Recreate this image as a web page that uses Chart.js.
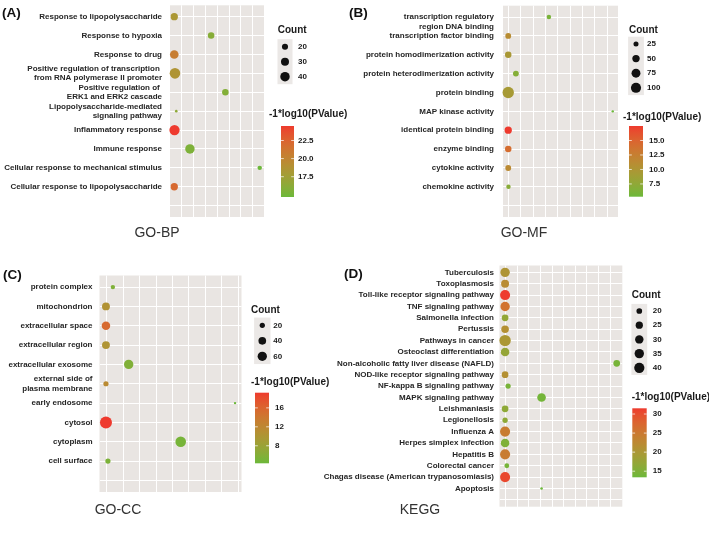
<!DOCTYPE html>
<html>
<head>
<meta charset="utf-8">
<script src="https://cdn.jsdelivr.net/npm/chart.js@4/dist/chart.umd.min.js"></script>
<style>
  html,body{margin:0;padding:0;background:#fff;}
  #wrap{position:relative;width:709px;height:537px;overflow:hidden;}
  canvas{position:absolute;left:0;top:0;}
</style>
</head>
<body>
<div id="wrap">
  <canvas id="cA" width="709" height="537"></canvas>
  <canvas id="cB" width="709" height="537"></canvas>
  <canvas id="cC" width="709" height="537"></canvas>
  <canvas id="cD" width="709" height="537"></canvas>
</div>
<script>
// ---------------- DATA ----------------
// (A) GO-BP
const termsA = [
  "Response to lipopolysaccharide",
  "Response to hypoxia",
  "Response to drug",
  "Positive regulation of transcription \nfrom RNA polymerase II promoter",
  "Positive regulation of \nERK1 and ERK2 cascade",
  "Lipopolysaccharide-mediated\nsignaling pathway",
  "Inflammatory response",
  "Immune response",
  "Cellular response to mechanical stimulus",
  "Cellular response to lipopolysaccharide"
];
const xA     = [0.35, 3.48, 0.35, 0.41, 4.69, 0.52, 0.37, 1.68, 7.61, 0.35];
const countA = [26, 22, 34, 50, 22, 13, 47, 40, 15, 26];
const logpA  = [18.3, 16.0, 20.6, 18.6, 15.8, 16.4, 24.5, 15.5, 14.7, 22.1];
const countBreaksA = ["20", "30", "40"];
const colorBreaksA = ["17.5", "20.0", "22.5"];

// (B) GO-MF
const termsB = [
  "\ntranscription regulatory\nregion DNA binding",
  "transcription factor binding",
  "protein homodimerization activity",
  "protein heterodimerization activity",
  "protein binding",
  "MAP kinase activity",
  "identical protein binding",
  "enzyme binding",
  "cytokine activity",
  "chemokine activity"
];
const xB     = [4.27, 0.98, 0.98, 1.60, 0.98, 9.44, 0.98, 0.98, 0.98, 1.00];
const countB = [21, 32, 39, 32, 130, 15, 49, 39, 32, 21];
const logpB  = [6.0, 11.0, 9.6, 6.8, 9.4, 5.3, 17.5, 14.2, 11.3, 7.0];
const countBreaksB = ["25", "50", "75", "100"];
const colorBreaksB = ["7.5", "10.0", "12.5", "15.0"];

// (C) GO-CC
const termsC = [
  "protein complex",
  "mitochondrion",
  "extracellular space",
  "extracellular region",
  "extracellular exosome",
  "external side of\nplasma membrane",
  "early endosome",
  "cytosol",
  "cytoplasm",
  "cell surface"
];
const xC     = [1.38, 0.96, 0.96, 0.96, 2.34, 0.96, 8.80, 0.96, 5.50, 1.08];
const countC = [16, 42, 49, 42, 60, 20, 12, 104, 79, 20];
const logpC  = [5.6, 10.5, 15.5, 10.2, 5.8, 11.5, 4.3, 19.2, 5.0, 5.4];
const countBreaksC = ["20", "40", "60"];
const colorBreaksC = ["8", "12", "16"];

// (D) KEGG
const termsD = [
  "Tuberculosis",
  "Toxoplasmosis",
  "Toll-like receptor signaling pathway",
  "TNF signaling pathway",
  "Salmonella infection",
  "Pertussis",
  "Pathways in cancer",
  "Osteoclast differentiation",
  "Non-alcoholic fatty liver disease (NAFLD)",
  "NOD-like receptor signaling pathway",
  "NF-kappa B signaling pathway",
  "MAPK signaling pathway",
  "Leishmaniasis",
  "Legionellosis",
  "Influenza A",
  "Herpes simplex infection",
  "Hepatitis B",
  "Colorectal cancer",
  "Chagas disease (American trypanosomiasis)",
  "Apoptosis"
];
const xD     = [0.94, 0.94, 0.94, 0.94, 0.94, 0.94, 0.94, 0.94, 10.58, 0.94, 1.20, 4.09, 0.94, 0.94, 0.94, 0.94, 0.94, 1.09, 0.94, 4.09];
const countD = [35, 28, 39, 35, 23, 26, 48, 31, 23, 23, 19, 31, 23, 19, 39, 31, 39, 18, 39, 16];
const logpD  = [20.5, 22.0, 31.5, 26.0, 17.0, 21.3, 20.0, 17.3, 14.3, 21.3, 14.4, 14.0, 16.5, 16.5, 24.5, 15.0, 24.5, 14.2, 30.5, 13.4];
const countBreaksD = ["20", "25", "30", "35", "40"];
const colorBreaksD = ["15", "20", "25", "30"];

const sizeTitle = "Count";
const colorTitle = "-1*log10(PValue)";

// ---------------- STYLE / LAYOUT ----------------
const W = 709, H = 537;
const FONT = "'Liberation Sans', Arial, Helvetica, sans-serif";
const LOW = "#6cb83a", HIGH = "#ee3a2e";
const PANEL_BG = "#e9e5e2";

const panels = [
  { id:"cA", terms:termsA, x:xA, count:countA, logp:logpA, cb:countBreaksA, pb:colorBreaksA,
    box:{left:170, right:264, top:2, bottom:217}, labelPad:8, rMin:1.3, rMax:5.3,
    tag:{t:"(A)", x:2, y:13}, title:{t:"GO-BP", x:157, y:233},
    lg:{countX:277.7, countY:30, keyX:285, sizeY0:46.7, sizeStep:15, sizeLabelX:298,
        barTitleX:269, barTitleY:114, barX:281, barW:13, barTop:126, barBottom:197, barLabelX:298} },
  { id:"cB", terms:termsB, x:xB, count:countB, logp:logpB, cb:countBreaksB, pb:colorBreaksB,
    box:{left:503, right:618, top:1.5, bottom:217}, labelPad:9, rMin:1.2, rMax:5.7,
    tag:{t:"(B)", x:349, y:13}, title:{t:"GO-MF", x:524, y:233},
    lg:{countX:629, countY:30, keyX:636, sizeY0:44, sizeStep:14.6, sizeLabelX:647,
        barTitleX:623, barTitleY:117, barX:629, barW:14, barTop:126, barBottom:196.7, barLabelX:649} },
  { id:"cC", terms:termsC, x:xC, count:countC, logp:logpC, cb:countBreaksC, pb:colorBreaksC,
    box:{left:99.5, right:241.5, top:275.5, bottom:492}, labelPad:7, rMin:1.2, rMax:6.0,
    tag:{t:"(C)", x:3, y:275}, title:{t:"GO-CC", x:118, y:510},
    lg:{countX:251, countY:310, keyX:262.3, sizeY0:325.3, sizeStep:15.5, sizeLabelX:273.3,
        barTitleX:251, barTitleY:382.3, barX:255, barW:14, barTop:392.7, barBottom:463.3, barLabelX:275} },
  { id:"cD", terms:termsD, x:xD, count:countD, logp:logpD, cb:countBreaksD, pb:colorBreaksD,
    box:{left:499.5, right:622.3, top:265.5, bottom:506.7}, labelPad:5.5, rMin:1.3, rMax:5.7,
    tag:{t:"(D)", x:344, y:274}, title:{t:"KEGG", x:420, y:510},
    lg:{countX:631.7, countY:295, keyX:639.3, sizeY0:311, sizeStep:14.2, sizeLabelX:652.7,
        barTitleX:631.7, barTitleY:397.7, barX:632.3, barW:14.4, barTop:408.3, barBottom:477.3, barLabelX:652.7} }
];

// ---------------- COLOUR (CIELAB gradient like ggplot) ----------------
function hexToRgb(h){ h=h.replace('#',''); return [parseInt(h.substr(0,2),16),parseInt(h.substr(2,2),16),parseInt(h.substr(4,2),16)]; }
function toLin(c){ c/=255; return c<=0.04045? c/12.92 : Math.pow((c+0.055)/1.055,2.4); }
function fromLin(c){ c = c<=0.0031308? 12.92*c : 1.055*Math.pow(c,1/2.4)-0.055; return Math.round(Math.max(0,Math.min(1,c))*255); }
function rgbToLab(rgb){
  const r=toLin(rgb[0]), g=toLin(rgb[1]), b=toLin(rgb[2]);
  let X=(0.4124*r+0.3576*g+0.1805*b)/0.95047, Y=(0.2126*r+0.7152*g+0.0722*b), Z=(0.0193*r+0.1192*g+0.9505*b)/1.08883;
  const f=t=> t>0.008856? Math.cbrt(t) : 7.787*t+16/116;
  const fx=f(X), fy=f(Y), fz=f(Z);
  return [116*fy-16, 500*(fx-fy), 200*(fy-fz)];
}
function labToRgb(lab){
  const fy=(lab[0]+16)/116, fx=fy+lab[1]/500, fz=fy-lab[2]/200;
  const fi=t=> t*t*t>0.008856? t*t*t : (t-16/116)/7.787;
  const X=fi(fx)*0.95047, Y=fi(fy), Z=fi(fz)*1.08883;
  const r= 3.2406*X-1.5372*Y-0.4986*Z, g=-0.9689*X+1.8758*Y+0.0415*Z, b=0.0557*X-0.2040*Y+1.0570*Z;
  return [fromLin(r),fromLin(g),fromLin(b)];
}
const LAB_LO = rgbToLab(hexToRgb(LOW)), LAB_HI = rgbToLab(hexToRgb(HIGH));
function rampColor(t){
  t=Math.max(0,Math.min(1,t));
  const c=labToRgb([0,1,2].map(i=>LAB_LO[i]+(LAB_HI[i]-LAB_LO[i])*t));
  return `rgb(${c[0]},${c[1]},${c[2]})`;
}
function colorOf(P,v){ const lo=Math.min(...P.logp), hi=Math.max(...P.logp); return rampColor((v-lo)/(hi-lo)); }
function radiusOf(P,c){
  const lo=Math.min(...P.count), hi=Math.max(...P.count);
  const t=Math.max(0,Math.min(1,(c-lo)/(hi-lo)));
  return P.rMin+(P.rMax-P.rMin)*Math.sqrt(t);
}

// ---------------- PLUGIN: panel bg, tags, titles, legends ----------------
const panelPlugin = {
  id:'panelDeco',
  beforeDraw(chart){
    const a=chart.chartArea, ctx=chart.ctx;
    ctx.save(); ctx.fillStyle=PANEL_BG; ctx.fillRect(a.left,a.top,a.right-a.left,a.bottom-a.top); ctx.restore();
  },
  afterDraw(chart){
    const P=chart.options.plugins.panelDeco.P, ctx=chart.ctx, L=P.lg;
    ctx.save();
    // tag
    ctx.fillStyle='#111'; ctx.textBaseline='middle'; ctx.textAlign='left';
    ctx.font=`bold 13.5px ${FONT}`; ctx.fillText(P.tag.t,P.tag.x,P.tag.y);
    // bottom title
    ctx.fillStyle='#333'; ctx.textAlign='center'; ctx.font=`14px ${FONT}`;
    ctx.fillText(P.title.t,P.title.x,P.title.y);
    // size legend
    ctx.textAlign='left'; ctx.fillStyle='#1a1a1a'; ctx.font=`bold 10px ${FONT}`;
    ctx.fillText(sizeTitle,L.countX,L.countY);
    const n=P.cb.length, keyW=2*(P.rMax+2.2);
    ctx.fillStyle='#ebe8e6';
    ctx.fillRect(L.keyX-keyW/2, L.sizeY0-L.sizeStep/2, keyW, L.sizeStep*n);
    P.cb.forEach((s,i)=>{
      const y=L.sizeY0+i*L.sizeStep, r=radiusOf(P,parseFloat(s));
      ctx.fillStyle='#111'; ctx.beginPath(); ctx.arc(L.keyX,y,r,0,Math.PI*2); ctx.fill();
      ctx.fillStyle='#1a1a1a'; ctx.font=`bold 8px ${FONT}`; ctx.fillText(s,L.sizeLabelX,y);
    });
    // colour bar
    ctx.font=`bold 10px ${FONT}`; ctx.fillStyle='#1a1a1a';
    ctx.fillText(colorTitle,L.barTitleX,L.barTitleY);
    const g=ctx.createLinearGradient(0,L.barBottom,0,L.barTop);
    for(let k=0;k<=20;k++) g.addColorStop(k/20, rampColor(k/20));
    ctx.fillStyle=g; ctx.fillRect(L.barX,L.barTop,L.barW,L.barBottom-L.barTop);
    const lo=Math.min(...P.logp), hi=Math.max(...P.logp), bh=L.barBottom-L.barTop;
    P.pb.forEach(s=>{
      const y=L.barBottom-(parseFloat(s)-lo)/(hi-lo)*bh;
      ctx.strokeStyle='rgba(255,255,255,0.9)'; ctx.lineWidth=0.8;
      ctx.beginPath(); ctx.moveTo(L.barX,y); ctx.lineTo(L.barX+2.8,y);
      ctx.moveTo(L.barX+L.barW-2.8,y); ctx.lineTo(L.barX+L.barW,y); ctx.stroke();
      ctx.fillStyle='#1a1a1a'; ctx.font=`bold 8px ${FONT}`; ctx.fillText(s,L.barLabelX,y);
    });
    ctx.restore();
  }
};

// ---------------- CHARTS ----------------
panels.forEach(P=>{
  const n=P.terms.length, rows=n+1; // one empty slot at the bottom, as in the figure
  const dmin=Math.min(...P.x), dmax=Math.max(...P.x), ex=0.05*(dmax-dmin);
  const xmin=dmin-ex, xmax=dmax+ex;
  new Chart(document.getElementById(P.id),{
    type:'bubble',
    data:{datasets:[{
      data:P.x.map((x,i)=>({x:x, y:i+1, r:radiusOf(P,P.count[i])})),
      backgroundColor:P.logp.map(v=>colorOf(P,v)),
      borderWidth:0, hoverBorderWidth:0, hoverRadius:0, clip:false
    }]},
    options:{
      responsive:false, animation:false, events:[],
      layout:{padding:{left:0, top:P.box.top, right:W-P.box.right, bottom:H-P.box.bottom}},
      plugins:{legend:{display:false}, tooltip:{enabled:false}, panelDeco:{P:P}},
      scales:{
        x:{type:'linear', min:xmin, max:xmax,
           grid:{color:'#ffffff', lineWidth:1, drawTicks:false},
           border:{display:false}, ticks:{display:false},
           afterBuildTicks:s=>{ const t=[]; for(let v=Math.ceil(xmin+0.15); v<=xmax-0.15; v++) t.push({value:v}); s.ticks=t; },
           afterFit:s=>{ s.height=0; s.paddingLeft=0; s.paddingRight=0; s.paddingTop=0; s.paddingBottom=0; }},
        y:{type:'linear', reverse:true, min:0.4, max:rows+0.6,
           grid:{color:'#ffffff', lineWidth:1, drawTicks:false},
           border:{display:false},
           ticks:{autoSkip:false, padding:P.labelPad, color:'#262626',
                  font:{family:FONT, size:8, weight:'bold', lineHeight:1.2},
                  callback:v=>{ const s=P.terms[v-1]; return s? s.split('\n') : ''; }},
           afterBuildTicks:s=>{ const t=[]; for(let v=1; v<=rows; v++) t.push({value:v}); s.ticks=t; },
           afterFit:s=>{ s.width=P.box.left; s.paddingTop=0; s.paddingBottom=0; s.paddingLeft=0; s.paddingRight=0; }}
      }
    },
    plugins:[panelPlugin]
  });
});
</script>
</body>
</html>
